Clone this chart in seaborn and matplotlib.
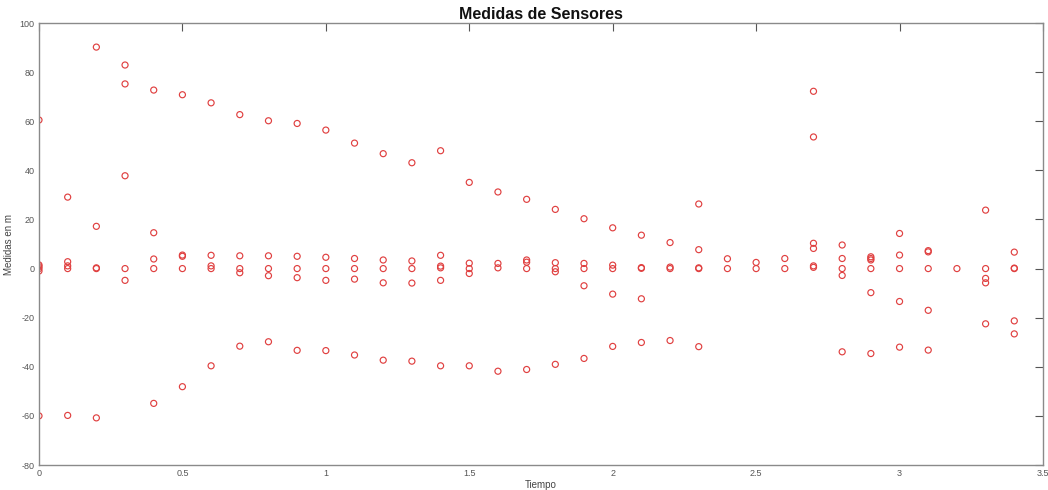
import matplotlib
matplotlib.use("Agg")
import matplotlib.pyplot as plt
import seaborn as sns
import pandas as pd

# Sampling instants (s) and the sensor readings taken at each instant (m)
tiempos = [0.0, 0.1, 0.2, 0.3, 0.4, 0.5, 0.6, 0.7, 0.8, 0.9, 1.0, 1.1,
           1.2, 1.3, 1.4, 1.5, 1.6, 1.7, 1.8, 1.9, 2.0, 2.1, 2.2, 2.3,
           2.4, 2.5, 2.6, 2.7, 2.8, 2.9, 3.0, 3.1, 3.2, 3.3, 3.4]
medidas = [
    [60.5, 1.5, 0.8, 0.0, -1.0, -60.0],
    [29.1, 2.8, 1.1, 0.0, -59.8],
    [90.2, 17.2, 0.3, 0.0, -60.8],
    [82.9, 75.2, 37.8, 0.0, -4.8],
    [72.7, 14.6, 3.9, 0.0, -54.9],
    [70.8, 5.5, 5.0, 0.0, -48.1],
    [67.5, 5.4, 1.1, 0.0, -39.6],
    [62.7, 5.2, 0.0, -1.7, -31.6],
    [60.2, 5.2, 0.0, -2.9, -29.8],
    [59.1, 5.0, 0.0, -3.7, -33.3],
    [56.4, 4.6, 0.0, -4.8, -33.4],
    [51.1, 4.1, 0.0, -4.3, -35.2],
    [46.8, 3.5, 0.0, -5.8, -37.3],
    [43.1, 3.1, 0.0, -5.9, -37.7],
    [48.0, 5.4, 1.0, 0.3, -4.8, -39.6],
    [35.1, 2.2, 0.0, -2.0, -39.6],
    [31.2, 2.1, 0.3, -41.8],
    [28.2, 3.5, 2.6, 0.0, -41.1],
    [24.1, 2.4, 0.0, -1.3, -39.0],
    [20.3, 2.1, 0.0, -7.0, -36.6],
    [16.6, 1.4, 0.0, -10.4, -31.7],
    [13.6, 0.4, 0.1, -12.3, -30.1],
    [10.6, 0.6, 0.0, -29.3],
    [26.3, 7.7, 0.3, 0.0, -31.8],
    [4.0, 0.0],
    [2.5, 0.0],
    [4.1, 0.0],
    [72.2, 53.6, 10.3, 8.2, 1.1, 0.5],
    [9.6, 4.1, 0.0, -2.8, -33.9],
    [4.8, 4.1, 3.5, 0.0, -9.8, -34.6],
    [14.3, 5.5, 0.0, -13.4, -32.0],
    [7.3, 6.8, 0.0, -17.0, -33.2],
    [0.0],
    [23.8, 0.0, -4.0, -5.8, -22.5],
    [6.7, 0.2, 0.0, -21.3, -26.6],
]
xticks = [0, 0.5, 1, 1.5, 2, 2.5, 3, 3.5]
xtick_labels = ["0", "0.5", "1", "1.5", "2", "2.5", "3", "3.5"]
yticks = [-80, -60, -40, -20, 0, 20, 40, 60, 80, 100]

df = pd.DataFrame(
    [(t, v) for t, vals in zip(tiempos, medidas) for v in vals],
    columns=["Tiempo", "Medida"],
)

sns.set_style("white")
plt.rcParams["font.family"] = ["Liberation Sans", "DejaVu Sans"]
plt.rcParams["axes.unicode_minus"] = False

fig = plt.figure(figsize=(10.48, 4.9), dpi=100)
ax = fig.add_axes([0.0372, 0.051, 0.958, 0.902])

sns.scatterplot(
    data=df, x="Tiempo", y="Medida", ax=ax,
    marker="o", s=19, facecolors="none", edgecolor="#e04040",
    linewidth=0.85, legend=False,
)

ax.set_xlim(0, 3.5)
ax.set_ylim(-80, 100)
ax.set_xticks(xticks)
ax.set_xticklabels(xtick_labels)
ax.set_yticks(yticks)

axis_grey = "#8a8a8a"
for sp in ax.spines.values():
    sp.set_visible(True)
    sp.set_color(axis_grey)
    sp.set_linewidth(1.0)
ax.tick_params(axis="both", direction="in", length=6, width=0.8,
               color="#555555", labelsize=6.5, labelcolor="#555555",
               top=True, right=True, pad=3)

ax.set_xlabel("Tiempo", fontsize=7, color="#444444", labelpad=1)
ax.set_ylabel("Medidas en m", fontsize=7, color="#444444", labelpad=4)
ax.set_title("Medidas de Sensores", fontsize=11.5, fontweight="bold",
             color="#111111", pad=3)

fig.savefig("out.png", dpi=100)
